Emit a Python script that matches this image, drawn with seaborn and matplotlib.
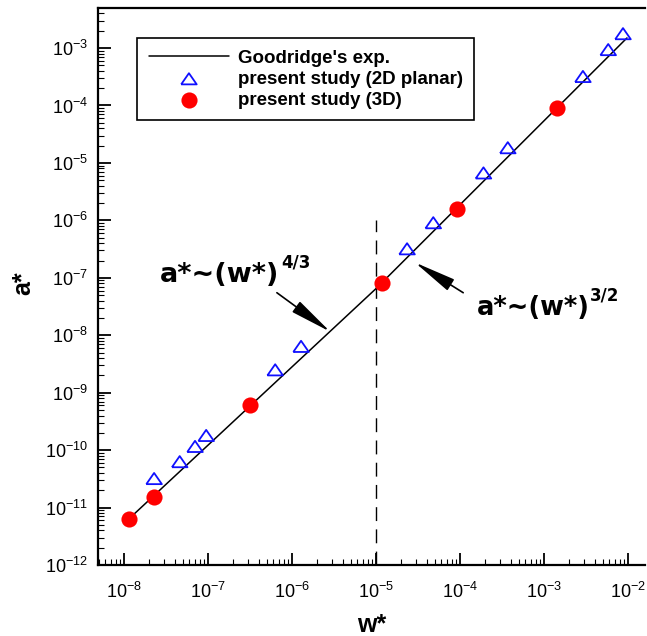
import matplotlib
matplotlib.use("Agg")
import matplotlib.pyplot as plt
import seaborn as sns
import pandas as pd
from matplotlib.ticker import LogLocator, LogFormatterSciNotation, NullFormatter, FixedLocator

# ---------------- data ----------------
goodridge_w = [1.15e-8, 1.0e-5, 9.7e-3]
goodridge_a = [6.4e-12, 6.5e-8, 1.5e-3]

planar2d_w = [2.28e-8, 4.6e-8, 7.0e-8, 9.5e-8, 6.3e-7, 1.28e-6,
              2.34e-5, 4.8e-5, 1.9e-4, 3.7e-4, 2.9e-3, 5.8e-3, 8.7e-3]
planar2d_a = [3.2e-11, 6.3e-11, 1.16e-10, 1.8e-10, 2.5e-9, 6.4e-9,
              3.2e-7, 9.1e-7, 6.7e-6, 1.84e-5, 3.2e-4, 9.4e-4, 1.78e-3]

study3d_w = [1.15e-8, 2.28e-8, 3.16e-7, 1.18e-5, 9.2e-5, 1.43e-3]
study3d_a = [6.4e-12, 1.5e-11, 6.0e-10, 8.2e-8, 1.6e-6, 9.2e-5]

transition_w = [1e-5, 1e-5]
transition_a = [1e-12, 1e-6]

x_ticks = [1e-8, 1e-7, 1e-6, 1e-5, 1e-4, 1e-3, 1e-2]
y_ticks = [1e-12, 1e-11, 1e-10, 1e-9, 1e-8, 1e-7, 1e-6, 1e-5, 1e-4, 1e-3]

labels = ["Goodridge's exp.", "present study (2D planar)", "present study (3D)"]
law_low = ("a*~(w*)", "4/3")
law_high = ("a*~(w*)", "3/2")

# ---------------- style ----------------
sns.set_style("ticks")
plt.rcParams["font.family"] = ["Liberation Sans", "DejaVu Sans"]
plt.rcParams["mathtext.fontset"] = "custom"
plt.rcParams["mathtext.rm"] = "Liberation Sans"
plt.rcParams["mathtext.it"] = "Liberation Sans:italic"
plt.rcParams["mathtext.bf"] = "Liberation Sans:bold"
for key in ["text.color", "axes.labelcolor", "xtick.color", "ytick.color",
            "axes.edgecolor"]:
    plt.rcParams[key] = "black"

fig = plt.figure(figsize=(6.47, 6.36), dpi=100)
ax = fig.add_axes([98 / 647, 1 - 565 / 636, 547 / 647, 557 / 636])

df_line = pd.DataFrame({"w": goodridge_w, "a": goodridge_a})
df_2d = pd.DataFrame({"w": planar2d_w, "a": planar2d_a})
df_3d = pd.DataFrame({"w": study3d_w, "a": study3d_a})

ax.set_xscale("log")
ax.set_yscale("log")

sns.lineplot(data=df_line, x="w", y="a", ax=ax, color="black", lw=1.1,
             sort=False, estimator=None, label=labels[0])
tri = [(-1, -0.72), (1, -0.72), (0, 0.72), (-1, -0.72)]
sns.scatterplot(data=df_2d, x="w", y="a", ax=ax, marker=tri, s=125,
                facecolor="none", edgecolor="#1010ff", linewidth=1.3,
                label=labels[1], zorder=4)
ax.collections[-1].set_facecolor("none")
sns.scatterplot(data=df_3d, x="w", y="a", ax=ax, marker="o", s=135,
                color="#ff0000", edgecolor="#ff0000", linewidth=0,
                label=labels[2], zorder=5)

ax.plot(transition_w, transition_a, color="black", lw=1.0,
        ls=(0, (10, 6)), zorder=2)

ax.set_xlim(4.9e-9, 1.59e-2)
ax.set_ylim(1e-12, 4.98e-3)

# ticks
ax.xaxis.set_major_locator(FixedLocator(x_ticks))
ax.yaxis.set_major_locator(FixedLocator(y_ticks))
ax.xaxis.set_major_formatter(LogFormatterSciNotation())
ax.yaxis.set_major_formatter(LogFormatterSciNotation())
ax.xaxis.set_minor_locator(LogLocator(base=10, subs=range(2, 10), numticks=30))
ax.yaxis.set_minor_locator(LogLocator(base=10, subs=range(2, 10), numticks=30))
ax.xaxis.set_minor_formatter(NullFormatter())
ax.yaxis.set_minor_formatter(NullFormatter())
ax.tick_params(which="major", direction="in", length=9, width=1.3,
               labelsize=13, top=False, right=False, colors="black")
ax.tick_params(which="minor", direction="in", length=4, width=0.8,
               top=False, right=False, colors="black")
ax.tick_params(axis="x", which="major", pad=12)
ax.tick_params(axis="y", which="major", pad=7)

for side in ["left", "bottom", "top"]:
    ax.spines[side].set_linewidth(1.6)
    ax.spines[side].set_color("black")
ax.spines["right"].set_visible(False)

ax.set_xlabel("w*", fontsize=18, fontweight="bold")
ax.set_ylabel("a*", fontsize=18, fontweight="bold")
ax.xaxis.set_label_coords(0.5, -0.086)
ax.yaxis.set_label_coords(-0.115, 0.506)

# legend
leg = ax.legend(loc="upper left", bbox_to_anchor=(0.0713, 0.946),
                borderaxespad=0, frameon=True, fancybox=False,
                framealpha=1, edgecolor="black",
                prop={"family": "Liberation Sans", "weight": "bold", "size": 13.5},
                handlelength=4.3, handletextpad=0.45, borderpad=0.62,
                labelspacing=0.2, scatterpoints=1)
leg.get_frame().set_linewidth(1.2)
for txt in leg.get_texts():
    txt.set_color("black")

# annotations
ann_font = {"family": "DejaVu Sans", "weight": "bold"}
t1 = ax.text(2.68e-8, 8.5e-8, law_low[0], fontsize=19.5, ha="left",
             va="baseline", fontdict=ann_font, color="black")
ax.annotate(law_low[1], xy=(1, 0), xycoords=t1, xytext=(1, 15),
            textcoords="offset points", fontsize=12, ha="left",
            va="baseline", fontfamily="DejaVu Sans", fontweight="bold",
            color="black")
t2 = ax.text(1.59e-4, 2.26e-8, law_high[0], fontsize=18.5, ha="left",
             va="baseline", fontdict=ann_font, color="black")
ax.annotate(law_high[1], xy=(1, 0), xycoords=t2, xytext=(0, 15),
            textcoords="offset points", fontsize=12, ha="left",
            va="baseline", fontfamily="DejaVu Sans", fontweight="bold",
            color="black")

arrow_style = dict(arrowstyle="-|>,head_length=1.3,head_width=0.2",
                   color="black", lw=1.2, mutation_scale=20,
                   shrinkA=0, shrinkB=0)
ax.annotate("", xy=(2.85e-6, 1.15e-8), xytext=(6.6e-7, 5.5e-8),
            arrowprops=arrow_style)
ax.annotate("", xy=(2.9e-5, 1.85e-7), xytext=(1.09e-4, 5.5e-8),
            arrowprops=arrow_style)

fig.savefig("out.png", dpi=100)
